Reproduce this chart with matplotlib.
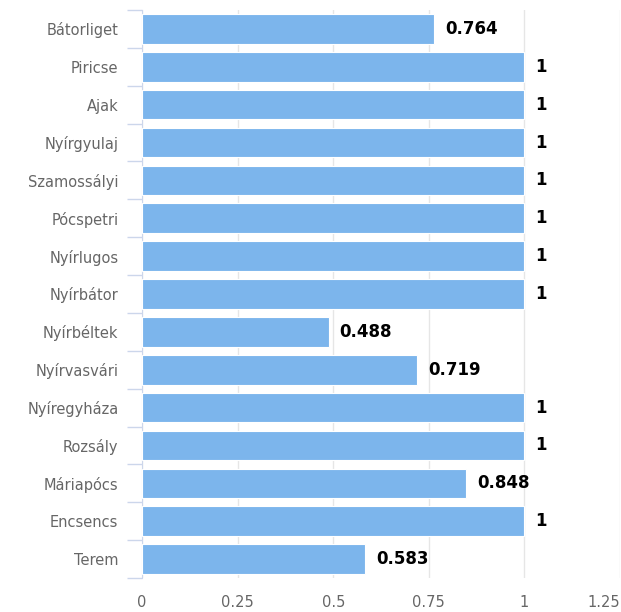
import matplotlib.pyplot as plt

places = ['Bátorliget', 'Piricse', 'Ajak', 'Nyírgyulaj', 'Szamossályi', 'Pócspetri',
          'Nyírlugos', 'Nyírbátor', 'Nyírbéltek', 'Nyírvasvári', 'Nyíregyháza',
          'Rozsály', 'Máriapócs', 'Encsencs', 'Terem']
values = [0.764, 1, 1, 1, 1, 1, 1, 1, 0.488, 0.719, 1, 1, 0.848, 1, 0.583]
xticks = [0, 0.25, 0.5, 0.75, 1, 1.25]
xtick_labels = ['0', '0.25', '0.5', '0.75', '1', '1.25']

fig = plt.figure(figsize=(6.21, 6.12), dpi=100)
ax = fig.add_axes([142 / 621, 34 / 612, (620 - 142) / 621, 568 / 612])

ypos = list(range(len(places)))
ax.barh(ypos, values, height=0.78, color='#7cb5ec', edgecolor='white', linewidth=0.8, zorder=3)

for y, v in zip(ypos, values):
    label = '{:g}'.format(v)
    ax.annotate(label, (v, y), xytext=(8, 0), textcoords='offset points',
                va='center', ha='left', fontsize=12, fontweight='bold', color='black')

ax.set_xlim(0, 1.25)
ax.set_ylim(len(places) - 0.5, -0.5)

ax.set_xticks(xticks)
ax.set_xticklabels(xtick_labels, color='#666666', fontsize=10.5)
ax.get_xticklabels()[-1].set_horizontalalignment('right')
ax.tick_params(axis='x', length=0, pad=12)
ax.grid(axis='x', color='#e6e6e6', linewidth=1, zorder=0)

ax.set_yticks(ypos)
ax.set_yticklabels(places, color='#666666', fontsize=10.5)
ax.set_yticks([y - 0.5 for y in ypos] + [len(places) - 0.5], minor=True)
ax.tick_params(axis='y', which='major', length=0, pad=17)
ax.tick_params(axis='y', which='minor', length=11, color='#ccd6eb', width=1)

for s in ['top', 'right', 'bottom']:
    ax.spines[s].set_visible(False)
ax.spines['left'].set_color('#ccd6eb')

fig.savefig('out.png', dpi=100)
